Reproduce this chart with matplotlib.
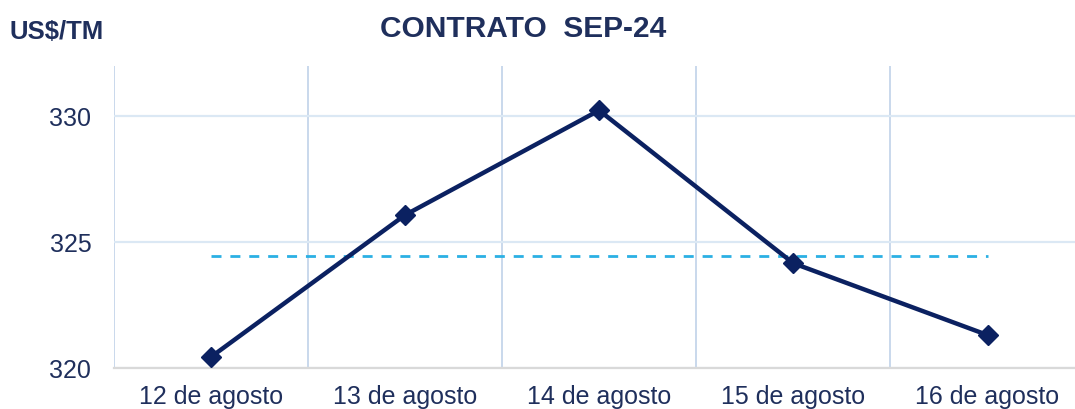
"""Contrato SEP-24: precio diario (US$/TM) con línea de promedio."""

import numpy as np
import matplotlib
matplotlib.use("Agg")
import matplotlib.pyplot as plt

# categorías y valores
DIAS = ["12 de agosto", "13 de agosto", "14 de agosto", "15 de agosto", "16 de agosto"]
PRECIO = [320.44, 326.08, 330.24, 324.17, 321.32]
Y_TICKS = [320, 325, 330]

NAVY = "#0b2161"
TEXT = "#1f2f5c"
DASH = "#2bb0e4"

plt.rcParams["font.family"] = ["Liberation Sans", "DejaVu Sans"]

fig = plt.figure(figsize=(10.75, 4.09), dpi=100)
ax = fig.add_axes([0.1056, 0.0995, 0.9034, 0.7391])

x = np.arange(len(DIAS))
promedio = np.mean(PRECIO)

ax.plot(x, PRECIO, "-D", color=NAVY, lw=3.2, ms=10, zorder=4)
ax.plot([x[0], x[-1]], [promedio, promedio], color=DASH, lw=2,
        dashes=(3.6, 3.2), zorder=3)

ax.set_xlim(-0.5, len(DIAS) - 0.5)
ax.set_ylim(320, 332)
ax.set_yticks(Y_TICKS)
ax.set_xticks(x)
ax.set_xticklabels(DIAS)
ax.set_xticks(np.arange(len(DIAS) + 1) - 0.5, minor=True)

ax.tick_params(axis="both", which="both", length=0, labelsize=18, colors=TEXT)
ax.tick_params(axis="x", pad=12)
ax.tick_params(axis="y", pad=16)

ax.grid(axis="y", which="major", color="#dbe8f4", lw=1.6)
ax.grid(axis="x", which="minor", color="#c9d8ec", lw=1.4)
ax.grid(axis="x", which="major", visible=False)
ax.set_axisbelow(True)

for s in ["top", "right", "left"]:
    ax.spines[s].set_visible(False)
ax.spines["bottom"].set_color("#d9d9d9")
ax.spines["bottom"].set_linewidth(1.6)

fig.text(0.487, 0.928, "CONTRATO  SEP-24", ha="center", va="center",
         fontsize=21.5, fontweight="bold", color=TEXT)
fig.text(0.009, 0.922, "US$/TM", ha="left", va="center",
         fontsize=18.5, fontweight="bold", color=TEXT)

fig.savefig("out.png", dpi=100)
